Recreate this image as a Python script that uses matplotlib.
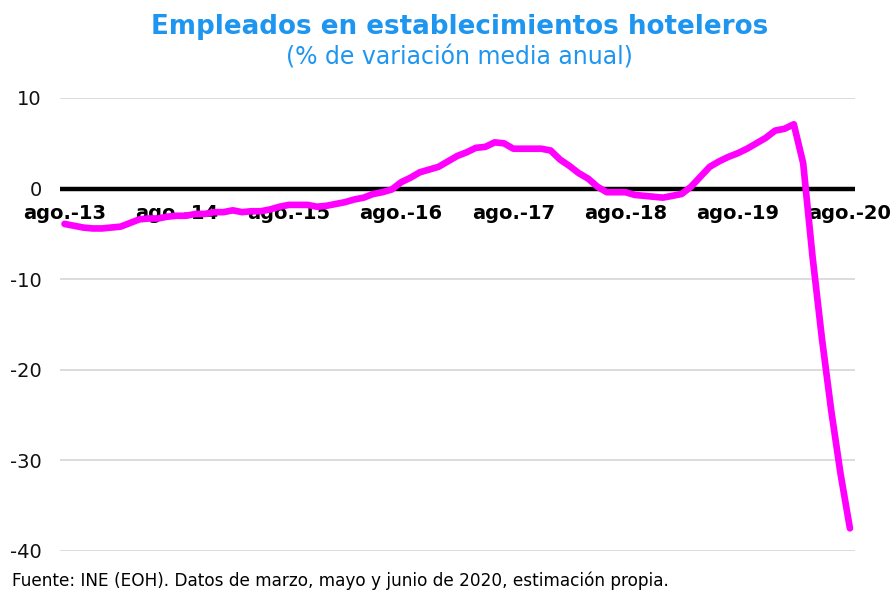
import matplotlib
matplotlib.use("Agg")
import matplotlib.pyplot as plt
import numpy as np

meses = ["ene.", "feb.", "mar.", "abr.", "may.", "jun.", "jul.", "ago.", "sep.", "oct.", "nov.", "dic."]
# monthly periods from ago.-13 to ago.-20
periodos = []
for k in range(85):
    m = (7 + k) % 12
    y = 13 + (7 + k) // 12
    periodos.append(f"{meses[m]}-{y}")

variacion = [
    -3.9, -4.1, -4.3, -4.4, -4.4, -4.3, -4.2, -3.8, -3.4, -3.3, -3.3, -3.1,
    -3.0, -3.0, -2.8, -2.8, -2.6, -2.6, -2.4, -2.6, -2.5, -2.5, -2.3, -2.0,
    -1.8, -1.8, -1.8, -2.0, -1.9, -1.7, -1.5, -1.2, -1.0, -0.6, -0.4, -0.1,
    0.7, 1.2, 1.8, 2.1, 2.4, 3.0, 3.6, 4.0, 4.5, 4.6, 5.1, 5.0,
    4.4, 4.4, 4.4, 4.4, 4.2, 3.2, 2.5, 1.7, 1.1, 0.2, -0.4, -0.4,
    -0.4, -0.7, -0.8, -0.9, -1.0, -0.8, -0.6, 0.2, 1.3, 2.4, 3.0, 3.5,
    3.9, 4.4, 5.0, 5.6, 6.4, 6.6, 7.1, 2.8, -7.5, -16.5, -24.5, -31.5,
    -37.5,
]

yticks = [10, 0, -10, -20, -30, -40]

fig = plt.figure(figsize=(8.93, 5.91), dpi=100)
ax = fig.add_axes([0.067, 0.0677, 0.89, 0.7665])

x = np.arange(len(periodos))
for t in yticks:
    if t != 0:
        ax.axhline(t, color="#d9d9d9", lw=1.3, zorder=0)
ax.axhline(0, color="black", lw=3.2, zorder=1)
ax.plot(x, variacion, color="#ff00ff", lw=4.8, solid_capstyle="round",
        solid_joinstyle="round", zorder=3)

ax.set_xlim(-0.5, len(periodos) - 0.5)
ax.set_ylim(-40, 10)
ax.set_yticks(yticks)
ax.set_yticklabels([str(t) for t in yticks], fontsize=14, color="#111111")
ax.tick_params(axis="y", length=0, pad=13)
ax.set_xticks([])
for s in ax.spines.values():
    s.set_visible(False)

# category labels just below the zero line
for i in range(0, len(periodos), 12):
    ax.text(i, -1.75, periodos[i], ha="center", va="top", fontsize=14,
            fontweight="bold", color="black", zorder=2)

fig.text(0.515, 0.955, "Empleados en establecimientos hoteleros", ha="center",
         va="center", fontsize=18.8, fontweight="bold", color="#1e96f0")
fig.text(0.515, 0.903, "(% de variación media anual)", ha="center", va="center",
         fontsize=17, color="#1e96f0")
fig.text(0.013, 0.018, "Fuente: INE (EOH). Datos de marzo, mayo y junio de 2020, estimación propia.",
         ha="left", va="center", fontsize=12.2, color="black")

fig.savefig("out.png", dpi=100)
